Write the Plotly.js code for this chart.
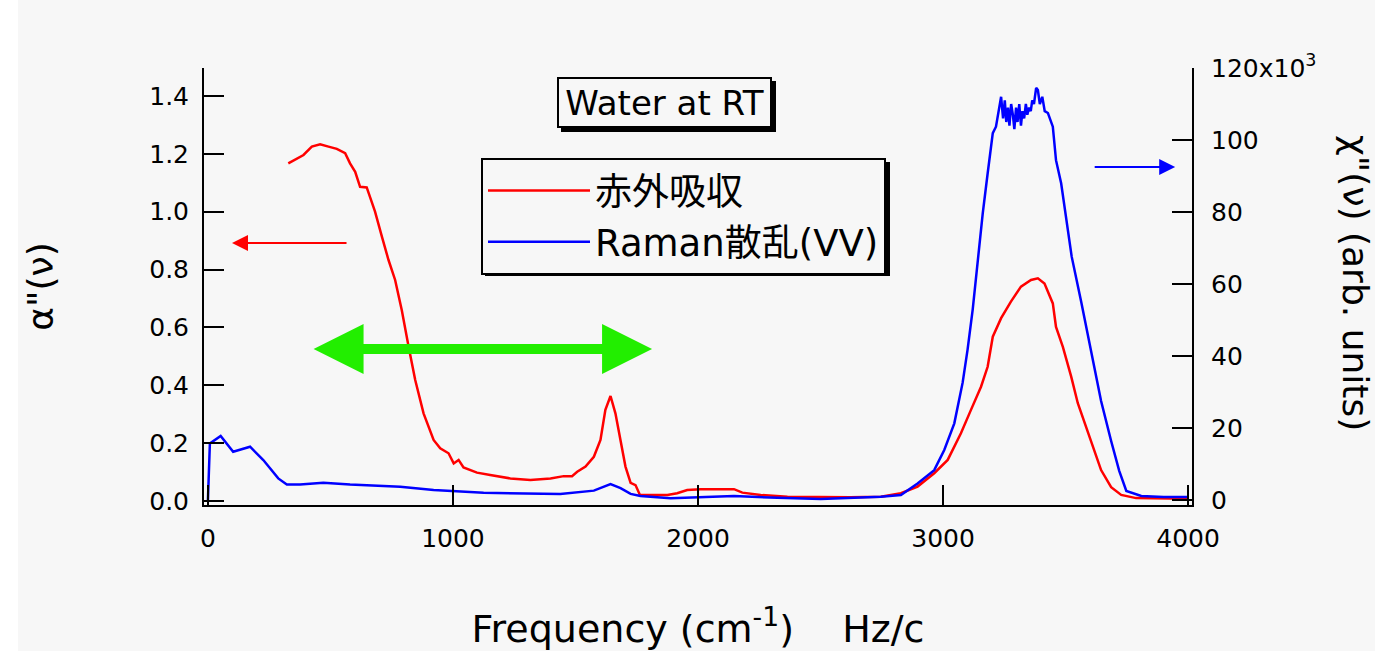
<!DOCTYPE html>
<html>
<head>
<meta charset="utf-8">
<script src="https://cdn.plot.ly/plotly-3.0.1.min.js"></script>
<style>
html,body{margin:0;padding:0;background:#ffffff;}
#chart{width:1375px;height:651px;}
</style>
</head>
<body>
<div id="chart"></div>
<script>
// ---- data ----
const irFreq = [328,390,424,458,492,526,560,580,601,621,648,682,710,737,764,791,819,846,880,921,948,982,1003,1023,1043,1098,1152,1234,1316,1398,1452,1486,1507,1541,1575,1602,1622,1643,1663,1684,1704,1725,1745,1763,1820,1875,1915,1956,2011,2147,2181,2256,2365,2501,2620,2746,2828,2896,2964,3019,3073,3114,3155,3182,3203,3237,3277,3318,3359,3387,3414,3448,3461,3489,3523,3550,3604,3645,3686,3727,3788,3900,4000];
const irAlpha = [1.167,1.196,1.225,1.233,1.225,1.217,1.202,1.167,1.138,1.086,1.084,1.0,0.914,0.833,0.764,0.66,0.533,0.418,0.303,0.211,0.182,0.165,0.130,0.142,0.116,0.098,0.090,0.078,0.073,0.078,0.086,0.086,0.101,0.119,0.153,0.211,0.315,0.363,0.303,0.211,0.119,0.063,0.055,0.021,0.021,0.021,0.027,0.038,0.041,0.041,0.029,0.021,0.015,0.013,0.013,0.015,0.027,0.05,0.096,0.142,0.234,0.315,0.395,0.464,0.568,0.632,0.689,0.741,0.764,0.770,0.752,0.683,0.602,0.533,0.430,0.338,0.211,0.107,0.048,0.021,0.010,0.008,0.008];

const ramanFreq = [0,8,52,103,172,226,287,322,376,471,580,785,921,1125,1438,1575,1643,1684,1725,1765,1888,2011,2147,2324,2501,2746,2828,2896,2964,3005,3046,3080,3100,3121,3141,3162,3182,3203,3216,3237,3245,3252,3258,3265,3271,3278,3285,3291,3298,3304,3311,3318,3324,3331,3338,3344,3351,3358,3364,3371,3380,3387,3395,3405,3415,3428,3448,3461,3482,3495,3509,3525,3564,3604,3645,3686,3719,3748,3809,3900,4000];
const ramanChi = [0,15700,17800,13400,14800,11100,6000,4300,4300,4800,4300,3700,2800,2000,1700,2600,4400,3300,1700,1100,500,800,1100,600,300,900,1400,4600,8300,13900,21300,32600,41700,52900,66700,79600,90700,101900,103700,112000,106000,111000,105000,109000,104000,110000,107000,103000,109000,105000,110000,104000,108000,106000,110000,107000,109000,108000,111000,110000,114500,113900,110000,112000,108000,107500,103700,94400,88000,81600,74200,67600,55000,41400,27500,16400,8100,2500,1100,800,800];

const leftTicks = [0,0.2,0.4,0.6,0.8,1.0,1.2,1.4];
const rightTicks = [0,20000,40000,60000,80000,100000,120000];
const rightTickText = ['0','20','40','60','80','100','120x10<sup>3</sup>'];
const xTicks = [0,1000,2000,3000,4000];

const seriesNames = ['赤外吸収','Raman散乱(VV)'];

// ---- layout geometry (pixels) ----
const W = 1375, H = 651;
const L = 204, R = 1192, T = 68, B = 505;
const px2x = p => (p - L) / (R - L);
const py2y = p => (B - p) / (B - T);
const BG = '#f7f7f7';
const FONT = 'DejaVu Sans, Noto Sans CJK JP, sans-serif';

const traces = [
  {x: irFreq, y: irAlpha, type: 'scatter', mode: 'lines', name: seriesNames[0],
   line: {color: '#ff0000', width: 2.5}, yaxis: 'y'},
  {x: ramanFreq, y: ramanChi, type: 'scatter', mode: 'lines', name: seriesNames[1],
   line: {color: '#0000ff', width: 2.5}, yaxis: 'y2'}
];

const axisCommon = {
  showgrid: false, zeroline: false, showline: true, linecolor: '#000', linewidth: 2,
  ticks: 'inside', ticklen: 20, tickwidth: 2, tickcolor: '#000',
  tickfont: {family: FONT, size: 25, color: '#000'}, mirror: false
};

const layout = {
  width: W, height: H,
  paper_bgcolor: '#ffffff', plot_bgcolor: BG,
  margin: {l: L, r: W - R, t: T, b: H - B, pad: 0},
  showlegend: true,
  legend: {
    x: px2x(481), y: py2y(158), xanchor: 'left', yanchor: 'top',
    bgcolor: BG, bordercolor: '#000', borderwidth: 2,
    font: {family: FONT, size: 37, color: '#000'},
    itemwidth: 102, tracegroupgap: 0
  },
  xaxis: Object.assign({}, axisCommon, {
    range: [-16, 4016], tickvals: xTicks, ticklabelstandoff: 10,
    title: {text: 'Frequency (cm<sup>-1</sup>)\u00a0\u00a0\u00a0\u00a0Hz/c', standoff: 63,
            font: {family: FONT, size: 38, color: '#000'}}
  }),
  yaxis: Object.assign({}, axisCommon, {
    range: [-0.0138, 1.4967], tickvals: leftTicks, tickformat: '.1f', ticklabelstandoff: 8,
    title: {text: 'α"(ν)', standoff: 85, font: {family: FONT, size: 36, color: '#000'}}
  }),
  yaxis2: Object.assign({}, axisCommon, {
    overlaying: 'y', side: 'right', range: [-1390, 120000],
    tickvals: rightTicks, ticktext: rightTickText, ticklabelstandoff: 12
  }),
  shapes: [
    // light background area (leaves a white strip on the far left)
    {type: 'rect', xref: 'paper', yref: 'paper', x0: px2x(18), x1: px2x(W + 5), y0: py2y(H + 5), y1: py2y(-5),
     fillcolor: BG, line: {width: 0}, layer: 'below'},
    // drop shadow of the title box
    {type: 'rect', xref: 'paper', yref: 'paper', x0: px2x(561), x1: px2x(776), y0: py2y(132), y1: py2y(81),
     fillcolor: '#000', line: {width: 0}, layer: 'above'},
    // drop shadow of the legend
    {type: 'rect', xref: 'paper', yref: 'paper', x0: px2x(485), x1: px2x(890), y0: py2y(276), y1: py2y(162),
     fillcolor: '#000', line: {width: 0}, layer: 'above'}
  ],
  annotations: [
    {text: 'Water at RT', xref: 'paper', yref: 'paper', x: px2x(664.5), y: py2y(102.5),
     xanchor: 'center', yanchor: 'middle', showarrow: false,
     font: {family: FONT, size: 34, color: '#000'},
     bgcolor: BG, bordercolor: '#000', borderwidth: 2, borderpad: 0, width: 211, height: 47},
    {text: 'χ"(ν) (arb. units)', xref: 'paper', yref: 'paper', x: px2x(1356), y: py2y(283),
     xanchor: 'center', yanchor: 'middle', showarrow: false, textangle: 90,
     font: {family: FONT, size: 36, color: '#000'}},
    // red arrow pointing to the left axis
    {x: (232 - 207.9) / 0.245, y: (501 - 243) / 289.3, xref: 'x', yref: 'y',
     ax: 116, ay: 0, showarrow: true, arrowhead: 2, arrowsize: 1.6, arrowwidth: 2,
     arrowcolor: '#ff0000', standoff: 0, text: ''},
    // blue arrow pointing to the right axis
    {x: (1175 - 207.9) / 0.245, y: (500 - 167) / 3.6 * 1000, xref: 'x', yref: 'y2',
     ax: -82, ay: 0, showarrow: true, arrowhead: 2, arrowsize: 1.6, arrowwidth: 2,
     arrowcolor: '#0000ff', standoff: 0, text: ''},
    // green double-headed arrow
    {x: (652 - 207.9) / 0.245, y: (501 - 349) / 289.3, xref: 'x', yref: 'y',
     ax: -340, ay: 0, showarrow: true, arrowhead: 2, startarrowhead: 2, arrowside: 'end+start',
     arrowsize: 1, startarrowsize: 1, arrowwidth: 10, arrowcolor: '#22ee00',
     standoff: 0, startstandoff: 0, text: ''}
  ]
};

Plotly.newPlot('chart', traces, layout, {displayModeBar: false, staticPlot: true});
</script>
</body>
</html>
